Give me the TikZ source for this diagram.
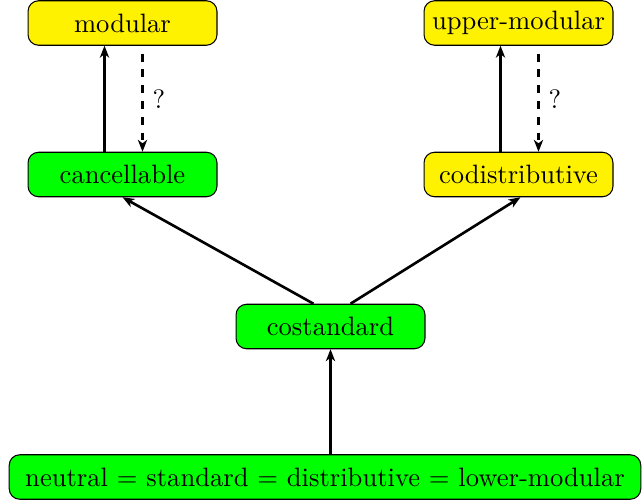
\documentclass[tikz,border=0pt]{standalone}
\usetikzlibrary{arrows.meta}
\begin{document}
\begin{tikzpicture}[x=0.38pt,y=-0.38pt,
  box/.style={draw,rounded corners=4pt,minimum width=71.8pt,minimum height=16.9pt,inner sep=2pt,line width=0.4pt,font=\fontsize{10.1}{12}\selectfont},
  gbox/.style={box,fill=green},
  ybox/.style={box,fill=yellow},
  arr/.style={-{Stealth[length=4.5pt,width=3.5pt,inset=1.3pt]},line width=1pt},
  darr/.style={arr,dashed},
  qlabel/.style={right,font=\fontsize{10.1}{12}\selectfont},
]
\useasboundingbox (0,0) rectangle (643,501);
\node[ybox] (mod) at (122.5,23) {modular};
\node[gbox] (can) at (122.5,174.5) {cancellable};
\node[ybox] (umod) at (518.5,23) {upper-modular};
\node[ybox] (codi) at (518.5,174.5) {codistributive};
\node[gbox] (cost) at (330.5,326.5) {costandard};
\node[gbox,minimum width=240pt] (neu) at (325,477) {neutral = standard = distributive = lower-modular};
\draw[arr] ([xshift=-18*0.38pt]can.north) -- ([xshift=-18*0.38pt]mod.south);
\draw[darr,shorten <=3pt] ([xshift=20*0.38pt]mod.south) -- node[qlabel] {?} ([xshift=20*0.38pt]can.north);
\draw[arr] ([xshift=-18*0.38pt]codi.north) -- ([xshift=-18*0.38pt]umod.south);
\draw[darr,shorten <=3pt] ([xshift=20*0.38pt]umod.south) -- node[qlabel] {?} ([xshift=20*0.38pt]codi.north);
\draw[arr] ([xshift=-17*0.38pt]cost.north) -- (can.south);
\draw[arr] ([xshift=20*0.38pt]cost.north) -- ([xshift=2*0.38pt]codi.south);
\draw[arr] (neu.north -| cost.south) -- (cost.south);
\end{tikzpicture}
\end{document}
